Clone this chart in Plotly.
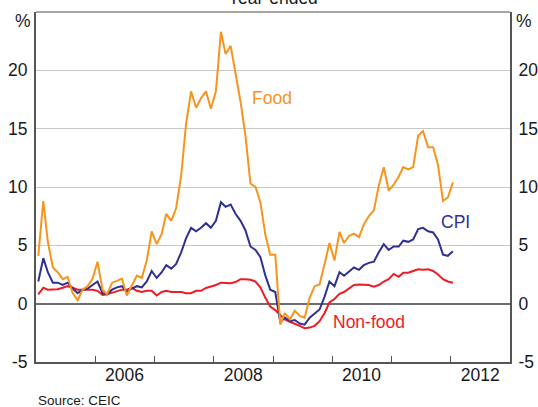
import pandas as pd
import plotly.graph_objects as go

# Monthly observations, Jan 2005 - Jan 2012 (year-ended % change)
months = pd.date_range("2005-01-01", periods=85, freq="MS") + pd.Timedelta(days=14)

cpi = [1.9, 3.9, 2.7, 1.8, 1.8, 1.6, 1.8, 1.3, 0.9, 1.2, 1.3, 1.6,
       1.9, 0.9, 0.8, 1.2, 1.4, 1.5, 1.0, 1.3, 1.5, 1.4, 1.9, 2.8,
       2.2, 2.7, 3.3, 3.0, 3.4, 4.4, 5.6, 6.5, 6.2, 6.5, 6.9, 6.5,
       7.1, 8.7, 8.3, 8.5, 7.7, 7.1, 6.3, 4.9, 4.6, 4.0, 2.4, 1.2,
       1.0, -1.6, -1.2, -1.5, -1.4, -1.7, -1.8, -1.2, -0.8, -0.5, 0.6, 1.9,
       1.5, 2.7, 2.4, 2.8, 3.1, 2.9, 3.3, 3.5, 3.6, 4.4, 5.1, 4.6,
       4.9, 4.9, 5.4, 5.3, 5.5, 6.4, 6.5, 6.2, 6.1, 5.5, 4.2, 4.1,
       4.5]

food = [4.1, 8.8, 5.3, 3.1, 2.7, 2.1, 2.3, 0.9, 0.3, 1.2, 1.5, 2.1,
        3.6, 1.2, 0.8, 1.8, 1.95, 2.15, 0.7, 1.6, 2.4, 2.2, 3.7, 6.2,
        5.1, 6.0, 7.7, 7.1, 8.2, 11.0, 15.4, 18.2, 16.8, 17.6, 18.2, 16.7,
        18.2, 23.3, 21.4, 22.1, 19.9, 17.3, 14.4, 10.3, 10.0, 8.7, 5.9, 4.2,
        4.2, -1.8, -0.8, -1.35, -0.6, -1.05, -1.2, 0.5, 1.5, 1.65, 3.4, 5.2,
        3.7, 6.15, 5.2, 5.8, 6.0, 5.7, 6.8, 7.5, 8.0, 10.1, 11.7, 9.7,
        10.2, 10.9, 11.7, 11.5, 11.7, 14.4, 14.8, 13.4, 13.4, 11.9, 8.8, 9.1,
        10.4]

nonfood = [0.8, 1.37, 1.2, 1.2, 1.23, 1.37, 1.5, 1.37, 1.2, 1.2, 1.2, 1.2,
           1.1, 0.75, 0.8, 0.95, 1.1, 1.2, 1.2, 1.35, 1.1, 1.0, 1.1, 1.1,
           0.7, 1.0, 1.1, 1.0, 1.0, 1.0, 0.9, 0.9, 1.1, 1.1, 1.35, 1.45,
           1.6, 1.8, 1.8, 1.75, 1.85, 2.1, 2.1, 2.05, 1.9, 1.4, 0.5, -0.25,
           -0.55, -1.0, -1.35, -1.55, -1.7, -1.9, -2.1, -2.05, -1.9, -1.5, -0.8, 0.1,
           0.4, 0.85, 1.0, 1.3, 1.6, 1.65, 1.65, 1.6, 1.45, 1.6, 1.9, 2.1,
           2.55, 2.3, 2.65, 2.65, 2.8, 2.95, 2.9, 2.95, 2.8, 2.5, 2.1, 1.9,
           1.8]

year_ticks = [f"{y}-01-01" for y in range(2006, 2013)]
label_pos = [f"{y}-07-01" for y in (2006, 2008, 2010, 2012)]
label_text = ["2006", "2008", "2010", "2012"]
y_ticks = [-5, 0, 5, 10, 15, 20]
y_text = ["-5", "0", "5", "10", "15", "20"]

ORANGE = "#F7941D"
NAVY = "#2E3192"
RED = "#ED1C24"
FONT = "Liberation Sans, Arial, sans-serif"
TXT = "#1a1a1a"
X_RANGE = ["2005-01-01", "2013-01-01"]

W, H = 538, 407
ML, MR, MT, MB = 36, 28, 12, 45

fig = go.Figure()
fig.add_trace(go.Scatter(x=months, y=nonfood, mode="lines", line=dict(color=RED, width=2), name="Non-food"))
fig.add_trace(go.Scatter(x=months, y=cpi, mode="lines", line=dict(color=NAVY, width=2), name="CPI"))
fig.add_trace(go.Scatter(x=months, y=food, mode="lines", line=dict(color=ORANGE, width=2), name="Food"))
# invisible trace anchoring the overlay axes (labels only)
fig.add_trace(go.Scatter(x=months, y=cpi, mode="lines", line=dict(color="rgba(0,0,0,0)", width=0),
                         xaxis="x2", yaxis="y2", hoverinfo="skip", showlegend=False))

fig.update_layout(
    width=W, height=H,
    margin=dict(l=ML, r=MR, t=MT, b=MB, autoexpand=False),
    paper_bgcolor="white", plot_bgcolor="white",
    showlegend=False,
    font=dict(family=FONT, size=17.5, color=TXT),
    xaxis=dict(range=X_RANGE, type="date", tickvals=year_ticks, showticklabels=False,
               ticks="inside", ticklen=6, tickwidth=1, tickcolor="#555555",
               showgrid=False, zeroline=False, showline=True, linecolor="#555555", linewidth=2),
    xaxis2=dict(range=X_RANGE, type="date", overlaying="x", side="bottom", anchor="y",
                tickvals=label_pos, ticktext=label_text, ticks="", showgrid=False,
                zeroline=False, showline=False, tickfont=dict(size=17.5, color=TXT)),
    yaxis=dict(range=[-5, 25], tickvals=y_ticks, ticktext=y_text, ticks="",
               showgrid=True, gridcolor="#c8c8c8", gridwidth=1,
               zeroline=True, zerolinecolor="#6e6e6e", zerolinewidth=2,
               showline=True, linecolor="#555555", linewidth=2, ticklabelstandoff=3,
               tickfont=dict(size=17.5, color=TXT)),
    yaxis2=dict(range=[-5, 25], tickvals=y_ticks, ticktext=y_text, ticks="",
                overlaying="y", side="right", anchor="x", showgrid=False, zeroline=False,
                showline=True, linecolor="#555555", linewidth=2, ticklabelstandoff=3,
                tickfont=dict(size=17.5, color=TXT)),
)

# top frame line
fig.add_shape(type="line", xref="paper", yref="paper", x0=0, x1=1, y0=1, y1=1,
              line=dict(color="#8a8a8a", width=1.5))

pw, ph = W - ML - MR, H - MT - MB


def px_to_paper(px, py):
    return (px - ML) / pw, (H - MB - py) / ph


lx, ly = px_to_paper(22.7, 20.7)
rx, ry = px_to_paper(523.7, 20.7)

ann = [
    dict(text="Year-ended", x=0.5, y=1, xref="paper", yref="paper", xanchor="center", yanchor="bottom",
         yshift=2, showarrow=False, font=dict(size=17.5, color=TXT)),
    dict(text="%", x=lx, y=ly, xref="paper", yref="paper", xanchor="center", yanchor="middle",
         showarrow=False, font=dict(size=17.5, color=TXT)),
    dict(text="%", x=rx, y=ry, xref="paper", yref="paper", xanchor="center", yanchor="middle",
         showarrow=False, font=dict(size=17.5, color=TXT)),
    dict(text="Food", x="2008-12-24", y=17.6, xanchor="center", yanchor="middle",
         showarrow=False, font=dict(size=17.5, color=ORANGE)),
    dict(text="CPI", x="2012-01-30", y=7.0, xanchor="center", yanchor="middle",
         showarrow=False, font=dict(size=17.5, color=NAVY)),
    dict(text="Non-food", x="2010-08-17", y=-1.57, xanchor="center", yanchor="middle",
         showarrow=False, font=dict(size=17.5, color=RED)),
    dict(text="Source: CEIC", x=0, y=0, xref="paper", yref="paper", xanchor="left", yanchor="middle",
         yshift=-38, showarrow=False, font=dict(size=13.5, color=TXT)),
]
fig.update_layout(annotations=ann)

fig.write_html("out.html", config={"displayModeBar": False},
               post_script="document.body.style.margin='0';document.body.style.padding='0';")
